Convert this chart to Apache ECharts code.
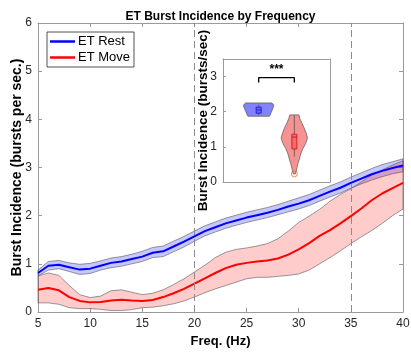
<!DOCTYPE html>
<html><head><meta charset="utf-8">
<script src="https://cdn.jsdelivr.net/npm/echarts@6/dist/echarts.min.js"></script>
<style>html,body{margin:0;padding:0;background:#fff}#c{width:411px;height:352px}</style>
</head><body><div id="c"></div>
<script>
// ---------- data ----------
const freq = [5,6,7,8,9,10,11,12,13,14,15,16,17,18,19,20,21,22,23,24,25,26,27,28,29,30,31,32,33,34,35,36,37,38,39,40];
const restMean = [0.81,0.96,0.98,0.93,0.88,0.90,0.96,1.02,1.05,1.10,1.15,1.23,1.26,1.36,1.46,1.57,1.68,1.76,1.84,1.90,1.96,2.01,2.06,2.12,2.19,2.25,2.32,2.41,2.50,2.58,2.68,2.77,2.86,2.93,2.99,3.04];
const restLo = [0.75,0.87,0.90,0.84,0.78,0.80,0.87,0.92,0.95,1.00,1.05,1.13,1.15,1.25,1.35,1.47,1.58,1.66,1.74,1.80,1.86,1.91,1.96,2.02,2.08,2.14,2.21,2.30,2.39,2.47,2.57,2.66,2.74,2.81,2.87,2.91];
const restHi = [0.87,1.05,1.07,1.02,0.99,1.01,1.06,1.12,1.15,1.20,1.26,1.34,1.37,1.47,1.57,1.68,1.79,1.87,1.95,2.01,2.07,2.12,2.17,2.23,2.30,2.37,2.44,2.53,2.62,2.70,2.80,2.89,2.98,3.06,3.12,3.18];
const moveMean = [0.46,0.50,0.45,0.31,0.23,0.20,0.21,0.24,0.255,0.24,0.23,0.25,0.31,0.39,0.48,0.59,0.70,0.81,0.91,0.98,1.02,1.05,1.07,1.11,1.19,1.30,1.43,1.58,1.70,1.84,1.99,2.15,2.32,2.46,2.57,2.68];
const moveLo = [0.19,0.19,0.16,0.09,0.07,0.07,0.055,0.03,0.03,0.05,0.09,0.10,0.13,0.17,0.23,0.31,0.40,0.48,0.55,0.62,0.69,0.72,0.72,0.74,0.76,0.79,0.87,1.00,1.13,1.27,1.42,1.56,1.69,1.84,2.00,2.14];
const moveHi = [0.75,0.81,0.76,0.55,0.36,0.30,0.33,0.44,0.46,0.41,0.36,0.39,0.46,0.57,0.69,0.83,0.97,1.13,1.24,1.30,1.33,1.37,1.42,1.52,1.68,1.86,1.99,2.13,2.30,2.44,2.56,2.70,2.84,2.95,3.05,3.14];
const seriesNames = ['ET Rest','ET Move'];
const dashedFreqs = [20,35];
const xTicks = [5,10,15,20,25,30,35,40];
const yTicks = [0,1,2,3,4,5,6];

// inset (violins)
const violinCenters = [1,2];
const blueViolinY = [1.87,1.90,1.95,2.00,2.05,2.10,2.15,2.19,2.22,2.25];
const blueViolinW = [0.30,0.32,0.34,0.36,0.38,0.40,0.42,0.42,0.40,0.37];
const redViolinY = [0.23,0.30,0.40,0.52,0.65,0.80,0.95,1.10,1.25,1.40,1.55,1.70,1.82,1.91];
const redViolinW = [0.03,0.05,0.07,0.10,0.14,0.18,0.24,0.32,0.37,0.33,0.27,0.20,0.15,0.13];
// box stats: [lowWhisker, q1, median, q3, highWhisker]
const blueBox = [1.90,1.96,2.05,2.13,2.20];
const redBox = [0.72,0.94,1.28,1.36,1.90];
const redOutliers = [0.23];
const insetYTicks = [0,1,2,3];
const sigBracket = [[1,2.83],[1,2.97],[2,2.97],[2,2.83]];
const sigText = '***';

// ---------- chart ----------
const FONT = '"Liberation Sans", Arial, Helvetica, sans-serif';
const AX = '#9a9a9a';
const LBL = '#262626';
const chart = echarts.init(document.getElementById('c'), null, {renderer:'canvas'});

function band(lo, hi, fill){
  return {
    type:'custom', xAxisIndex:0, yAxisIndex:0, silent:true, z:2,
    data:[[freq[0], lo[0]]], encode:{x:0,y:1},
    renderItem(params, api){
      const p = [];
      for (let i=0;i<freq.length;i++) p.push(api.coord([freq[i], hi[i]]));
      for (let i=freq.length-1;i>=0;i--) p.push(api.coord([freq[i], lo[i]]));
      return {type:'polygon', shape:{points:p}, style:{fill:fill, stroke:'#555', lineWidth:0.6}};
    }
  };
}
function line(name, ys, color){
  return {
    name:name, type:'line', xAxisIndex:0, yAxisIndex:0, z:3,
    data:freq.map((f,i)=>[f, ys[i]]), symbol:'none', showSymbol:false,
    lineStyle:{color:color, width:2}, itemStyle:{color:color}, silent:true
  };
}
const violins = [
  {c:violinCenters[0], y:blueViolinY, w:blueViolinW, fill:'#8282fb'},
  {c:violinCenters[1], y:redViolinY, w:redViolinW, fill:'#f79292'}
];
const boxes = [
  {c:violinCenters[0], s:blueBox, edge:'#1a1ad0', fill:'#6a6af5'},
  {c:violinCenters[1], s:redBox, edge:'#d01a1a', fill:'#f56b6b'}
];
const BHW = 0.07;

const axisCommon = {
  axisLine:{show:true, onZero:false, lineStyle:{color:AX, width:1}},
  axisTick:{show:true, inside:true, length:4, lineStyle:{color:AX}},
  splitLine:{show:false}
};

const option = {
  backgroundColor:'#fff',
  animation:false,
  textStyle:{fontFamily:FONT},
  title:{
    text:'ET Burst Incidence by Frequency', left:220.5, textAlign:'center', top:11, padding:0,
    textStyle:{fontSize:12, fontWeight:'bold', color:'#000', fontFamily:FONT}
  },
  legend:{
    data:seriesNames, orient:'vertical', left:47, top:32,
    backgroundColor:'#fff', borderColor:'#262626', borderWidth:0.8,
    padding:[3,4,3,3], itemGap:3, itemWidth:25, itemHeight:2.5, icon:'rect',
    textStyle:{fontSize:13, color:'#000', fontFamily:FONT, padding:[0,0,0,-2]}
  },
  grid:[
    {left:38, top:23, right:8, bottom:40, outerBoundsMode:'none', containLabel:false},
    {left:223, top:59, width:107, height:123, show:true, backgroundColor:'#fff', borderWidth:0, outerBoundsMode:'none', containLabel:false}
  ],
  xAxis:[
    Object.assign({}, axisCommon, {type:'value', gridIndex:0, position:'bottom', min:5, max:40, interval:5,
      axisLabel:{color:LBL, fontSize:12, margin:6, fontFamily:FONT, customValues:xTicks},
      axisTick:{show:true, inside:true, length:4, lineStyle:{color:AX}, customValues:xTicks},
      name:'Freq. (Hz)', nameLocation:'middle', nameGap:18,
      nameTextStyle:{fontSize:13, fontWeight:'bold', color:'#000', fontFamily:FONT}}),
    Object.assign({}, axisCommon, {type:'value', gridIndex:0, position:'top', min:5, max:40, interval:5,
      axisLabel:{show:false}}),
    Object.assign({}, axisCommon, {type:'value', gridIndex:1, position:'bottom', min:0, max:3, z:10,
      axisLabel:{show:false}, axisTick:{show:false}}),
    Object.assign({}, axisCommon, {type:'value', gridIndex:1, position:'top', min:0, max:3, z:10,
      axisLabel:{show:false}, axisTick:{show:false}})
  ],
  yAxis:[
    Object.assign({}, axisCommon, {type:'value', gridIndex:0, position:'left', min:0, max:6, interval:1,
      axisLabel:{color:LBL, fontSize:12, margin:6, fontFamily:FONT, customValues:yTicks},
      axisTick:{show:true, inside:true, length:4, lineStyle:{color:AX}, customValues:yTicks},
      name:'Burst Incidence (bursts per sec.)', nameLocation:'middle', nameGap:14, nameMoveOverlap:false,
      nameTextStyle:{fontSize:14, fontWeight:'bold', color:'#000', fontFamily:FONT}}),
    Object.assign({}, axisCommon, {type:'value', gridIndex:0, position:'right', min:0, max:6, interval:1,
      axisLabel:{show:false}}),
    Object.assign({}, axisCommon, {type:'value', gridIndex:1, position:'left', min:0, max:3.5, z:10,
      axisLabel:{color:LBL, fontSize:12, margin:6, fontFamily:FONT, customValues:insetYTicks},
      axisTick:{show:true, inside:true, length:3, lineStyle:{color:AX}, customValues:insetYTicks},
      name:'Burst Incidence (bursts/sec)', nameLocation:'middle', nameGap:13, nameMoveOverlap:false,
      nameTextStyle:{fontSize:13.5, fontWeight:'bold', color:'#000', fontFamily:FONT}}),
    Object.assign({}, axisCommon, {type:'value', gridIndex:1, position:'right', min:0, max:3.5, z:10,
      axisLabel:{show:false}, axisTick:{show:false}})
  ],
  series:[
    band(restLo, restHi, 'rgba(0,0,255,0.22)'),
    line(seriesNames[0], restMean, '#0000ff'),
    band(moveLo, moveHi, 'rgba(255,0,0,0.2)'),
    Object.assign(line(seriesNames[1], moveMean, '#ff0000'), {
      markLine:{
        silent:true, symbol:['none','none'], label:{show:false},
        lineStyle:{type:[7,4], color:'#8c8c8c', width:1},
        data:dashedFreqs.map(f=>({xAxis:f}))
      }
    }),
    // violins
    {
      type:'custom', xAxisIndex:2, yAxisIndex:2, silent:true, z:6,
      data:violinCenters.map(c=>[c,1]), encode:{x:0,y:1},
      renderItem(params, api){
        const v = violins[params.dataIndex];
        const right = v.y.map((y,i)=>api.coord([v.c+v.w[i], y]));
        const left = v.y.map((y,i)=>api.coord([v.c-v.w[i], y])).reverse();
        return {type:'polygon', shape:{points:right.concat(left)}, style:{fill:v.fill, stroke:'#555', lineWidth:0.7}};
      }
    },
    // boxes
    {
      type:'custom', xAxisIndex:2, yAxisIndex:2, silent:true, z:7,
      data:violinCenters.map(c=>[c,1]), encode:{x:0,y:1},
      renderItem(params, api){
        const b = boxes[params.dataIndex];
        const s = b.s;
        const w0 = api.coord([b.c, s[0]]), w1 = api.coord([b.c, s[4]]);
        const tl = api.coord([b.c-BHW, s[3]]), br = api.coord([b.c+BHW, s[1]]);
        const ml = api.coord([b.c-BHW, s[2]]), mr = api.coord([b.c+BHW, s[2]]);
        return {type:'group', children:[
          {type:'line', shape:{x1:w0[0], y1:w0[1], x2:w1[0], y2:w1[1]}, style:{stroke:'#555', lineWidth:0.8}},
          {type:'rect', shape:{x:tl[0], y:tl[1], width:br[0]-tl[0], height:br[1]-tl[1]}, style:{fill:b.fill, stroke:b.edge, lineWidth:0.9}},
          {type:'line', shape:{x1:ml[0], y1:ml[1], x2:mr[0], y2:mr[1]}, style:{stroke:b.edge, lineWidth:0.9}}
        ]};
      }
    },
    // outliers
    {
      type:'scatter', xAxisIndex:2, yAxisIndex:2, silent:true, z:8,
      data:redOutliers.map(v=>[violinCenters[1], v]), symbol:'circle', symbolSize:6,
      itemStyle:{color:'rgba(0,0,0,0)', borderColor:'#e8702a', borderWidth:1}
    },
    // significance bracket
    {
      type:'line', xAxisIndex:2, yAxisIndex:2, silent:true, z:8,
      data:sigBracket, symbol:'none', lineStyle:{color:'#000', width:1.3}
    },
    {
      type:'custom', xAxisIndex:2, yAxisIndex:2, silent:true, z:8,
      data:[[(sigBracket[1][0]+sigBracket[2][0])/2, sigBracket[1][1]]], encode:{x:0,y:1},
      renderItem(params, api){
        const p = api.coord([api.value(0), api.value(1)]);
        return {type:'text', x:p[0], y:p[1]-2, style:{text:sigText, fill:'#000', font:'bold 12px ' + FONT, align:'center', verticalAlign:'bottom'}};
      }
    }
  ]
};
chart.setOption(option);
</script></body></html>
